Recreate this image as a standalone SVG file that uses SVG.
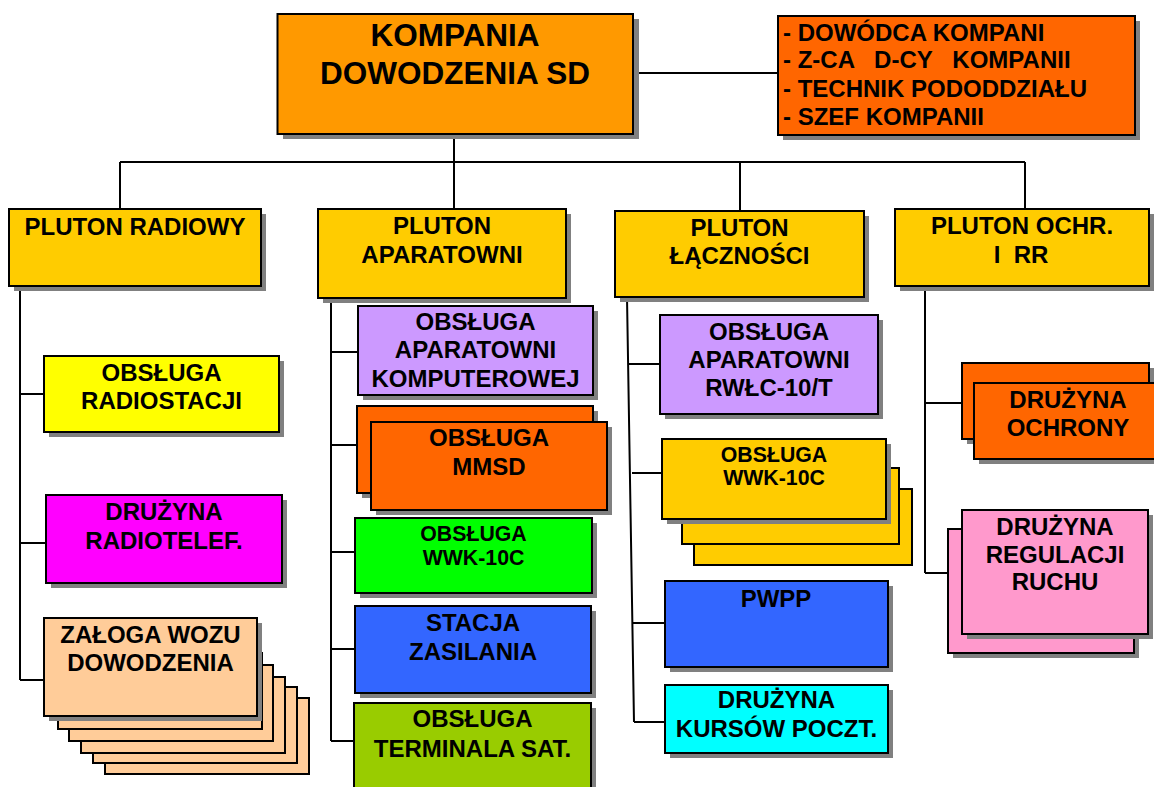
<svg xmlns="http://www.w3.org/2000/svg" width="1154" height="787" viewBox="0 0 1154 787">
<style>
.b{stroke:#000;stroke-width:2}
.sh{fill:#808080}
.ln{fill:none;stroke:#000;stroke-width:2}
text{font-family:"Liberation Sans",Arial,sans-serif;font-weight:bold;fill:#000;font-size:24px}
.c{text-anchor:middle}
.big{font-size:31.5px}
.sm{font-size:21.3px}
.pre{white-space:pre}
</style>
<rect width="1154" height="787" fill="#fff"/>
<g id="connectors" class="ln">
<path d="M633 73H778"/>
<path d="M454 134V209"/>
<path d="M120 162H1025"/>
<path d="M120 162V209M740 162V211M1025 162V209"/>
<path d="M20 286V680M20 394H44M20 543H46M20 680H44"/>
<path d="M331 298V741M331 352H358M331 445H357M331 552H355M331 649H355M331 741H354"/>
<path d="M627 297L634 722M629 364H660M632 473H662M633 623H665M634 722H665"/>
<path d="M925 286V573M925 403H962M925 573H948"/>
</g>
<g id="kompania">
<rect class="sh" x="283" y="19" width="356" height="120"/>
<rect class="b" x="277.5" y="14" width="355.5" height="120" fill="#FF9900"/>
<text class="c big" x="455" y="46">KOMPANIA</text>
<text class="c big" x="455" y="84">DOWODZENIA SD</text>
</g>
<g id="dowodztwo">
<rect class="sh" x="783" y="21" width="357" height="119"/>
<rect class="b" x="778" y="16" width="357" height="119" fill="#FF6600"/>
<text class="pre" x="783" y="41">- DOWÓDCA KOMPANI</text>
<text class="pre" x="783" y="68">- Z-CA   D-CY   KOMPANII</text>
<text class="pre" x="783" y="97">- TECHNIK PODODDZIAŁU</text>
<text class="pre" x="783" y="125">- SZEF KOMPANII</text>
</g>
<g id="pluton-radiowy">
<rect class="sh" x="14" y="214" width="252" height="77"/>
<rect class="b" x="9" y="209" width="252" height="77" fill="#FFCC00"/>
<text class="c" x="135" y="235">PLUTON RADIOWY</text>
</g>
<g id="pluton-aparatowni">
<rect class="sh" x="323" y="214" width="248" height="89"/>
<rect class="b" x="318" y="209" width="248" height="89" fill="#FFCC00"/>
<text class="c" x="442" y="234">PLUTON</text>
<text class="c" x="442" y="263">APARATOWNI</text>
</g>
<g id="pluton-lacznosci">
<rect class="sh" x="620" y="216" width="249" height="86"/>
<rect class="b" x="615" y="211" width="249" height="86" fill="#FFCC00"/>
<text class="c" x="739.5" y="236">PLUTON</text>
<text class="c" x="739.5" y="264">ŁĄCZNOŚCI</text>
</g>
<g id="pluton-ochr">
<rect class="sh" x="900" y="214" width="254" height="77"/>
<rect class="b" x="895" y="209" width="254" height="77" fill="#FFCC00"/>
<text class="c" x="1022" y="234">PLUTON OCHR.</text>
<text class="c pre" x="1021" y="263">I  RR</text>
</g>
<g id="obsluga-radiostacji">
<rect class="sh" x="49" y="361" width="235" height="76"/>
<rect class="b" x="44" y="356" width="235" height="76" fill="#FFFF00"/>
<text class="c" x="161.5" y="381">OBSŁUGA</text>
<text class="c" x="161.5" y="409">RADIOSTACJI</text>
</g>
<g id="druzyna-radiotelef">
<rect class="sh" x="51" y="500" width="236" height="88"/>
<rect class="b" x="46" y="495" width="236" height="88" fill="#FF00FF"/>
<text class="c" x="164" y="520">DRUŻYNA</text>
<text class="c" x="164" y="549">RADIOTELEF.</text>
</g>
<g id="zaloga-wozu">
<rect class="b" x="105" y="698" width="204" height="76" fill="#FFCC99"/>
<rect class="b" x="93" y="687" width="204" height="76" fill="#FFCC99"/>
<rect class="b" x="81" y="677" width="204" height="76" fill="#FFCC99"/>
<rect class="b" x="69" y="665" width="204" height="76" fill="#FFCC99"/>
<rect class="b" x="58" y="653" width="204" height="76" fill="#FFCC99"/>
<rect class="sh" x="49" y="623" width="213" height="98"/>
<rect class="b" x="44" y="618" width="213" height="98" fill="#FFCC99"/>
<text class="c" x="150.5" y="643">ZAŁOGA WOZU</text>
<text class="c" x="150.5" y="671">DOWODZENIA</text>
</g>
<g id="obsluga-komputerowej">
<rect class="sh" x="363" y="311" width="235" height="89"/>
<rect class="b" x="358" y="306" width="235" height="89" fill="#CC99FF"/>
<text class="c" x="475.5" y="330">OBSŁUGA</text>
<text class="c" x="475.5" y="358">APARATOWNI</text>
<text class="c" x="475.5" y="387">KOMPUTEROWEJ</text>
</g>
<g id="obsluga-mmsd">
<rect class="sh" x="362" y="411" width="236" height="87"/>
<rect class="b" x="357" y="406" width="236" height="87" fill="#FF6600"/>
<rect class="sh" x="376" y="427" width="236" height="88"/>
<rect class="b" x="371" y="422" width="236" height="88" fill="#FF6600"/>
<text class="c" x="489" y="446">OBSŁUGA</text>
<text class="c" x="489" y="475">MMSD</text>
</g>
<g id="obsluga-wwk-green">
<rect class="sh" x="360" y="523" width="237" height="75"/>
<rect class="b" x="355" y="518" width="237" height="75" fill="#00FF00"/>
<text class="c sm" x="473.5" y="540.5">OBSŁUGA</text>
<text class="c sm" x="473.5" y="565">WWK-10C</text>
</g>
<g id="stacja-zasilania">
<rect class="sh" x="360" y="611" width="236" height="87"/>
<rect class="b" x="355" y="606" width="236" height="87" fill="#3366FF"/>
<text class="c" x="473" y="631">STACJA</text>
<text class="c" x="473" y="660">ZASILANIA</text>
</g>
<g id="obsluga-terminala">
<rect class="sh" x="359" y="708" width="237" height="95"/>
<rect class="b" x="354" y="703" width="237" height="95" fill="#99CC00"/>
<text class="c" x="472.5" y="727">OBSŁUGA</text>
<text class="c" x="472.5" y="757">TERMINALA SAT.</text>
</g>
<g id="obsluga-rwlc">
<rect class="sh" x="665" y="320" width="218" height="99"/>
<rect class="b" x="660" y="315" width="218" height="99" fill="#CC99FF"/>
<text class="c" x="769" y="340">OBSŁUGA</text>
<text class="c" x="769" y="368">APARATOWNI</text>
<text class="c" x="769" y="396">RWŁC-10/T</text>
</g>
<g id="obsluga-wwk-yellow">
<rect class="b" x="694" y="489" width="218" height="76" fill="#FFCC00"/>
<rect class="b" x="682" y="468" width="217" height="76" fill="#FFCC00"/>
<rect class="sh" x="667" y="444" width="224" height="80"/>
<rect class="b" x="662" y="439" width="224" height="80" fill="#FFCC00"/>
<text class="c sm" x="774" y="462">OBSŁUGA</text>
<text class="c sm" x="774" y="485">WWK-10C</text>
</g>
<g id="pwpp">
<rect class="sh" x="670" y="586" width="223" height="86"/>
<rect class="b" x="665" y="581" width="223" height="86" fill="#3366FF"/>
<text class="c" x="776" y="607">PWPP</text>
</g>
<g id="druzyna-kursow">
<rect class="sh" x="670" y="690" width="223" height="68"/>
<rect class="b" x="665" y="685" width="223" height="68" fill="#00FFFF"/>
<text class="c" x="776.5" y="708">DRUŻYNA</text>
<text class="c" x="776.5" y="737">KURSÓW POCZT.</text>
</g>
<g id="druzyna-ochrony">
<rect class="sh" x="967" y="368" width="187" height="76"/>
<rect class="b" x="962" y="363" width="187" height="76" fill="#FF6600"/>
<rect class="sh" x="979" y="388" width="188" height="76"/>
<rect class="b" x="974" y="383" width="188" height="76" fill="#FF6600"/>
<text class="c" x="1068" y="408">DRUŻYNA</text>
<text class="c" x="1068" y="436">OCHRONY</text>
</g>
<g id="druzyna-regulacji">
<rect class="sh" x="953" y="534" width="186" height="124"/>
<rect class="b" x="948" y="529" width="186" height="124" fill="#FF99CC"/>
<rect class="sh" x="967" y="515" width="186" height="124"/>
<rect class="b" x="962" y="510" width="186" height="124" fill="#FF99CC"/>
<text class="c" x="1055" y="535">DRUŻYNA</text>
<text class="c" x="1055" y="563">REGULACJI</text>
<text class="c" x="1055" y="590">RUCHU</text>
</g>
</svg>
